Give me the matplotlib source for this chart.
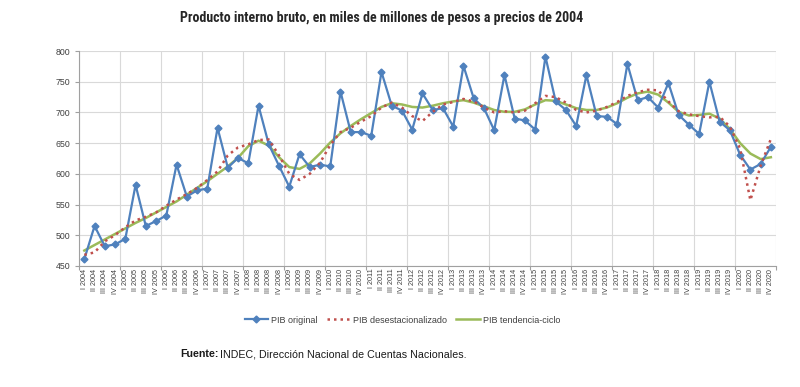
import numpy as np
import matplotlib
matplotlib.use('Agg')
import matplotlib.pyplot as plt
from matplotlib import font_manager

plt.rcParams['font.family'] = ['Liberation Sans', 'DejaVu Sans']

anios = list(range(2004, 2021))
trimestres = ['I', 'II', 'III', 'IV']
etiquetas = [t + ' ' + str(a) for a in anios for t in trimestres]

# PIB original (trimestral)
pib_original = [461, 515, 482, 485,
                494, 582, 515, 523,
                532, 615, 563, 573,
                576, 675, 610, 626,
                617, 711, 648, 613,
                579, 632, 611, 615,
                612, 734, 668, 668,
                662, 766, 711, 703,
                672, 731, 704, 707,
                677, 776, 723, 707,
                671, 761, 690, 687,
                672, 791, 718, 704,
                678, 761, 694, 693,
                681, 779, 720, 725,
                708, 748, 696, 680,
                665, 750, 685, 671,
                631, 607, 616, 644]

pib_desest = [468, 472, 490, 500,
              513, 524, 530, 537,
              548, 558, 567, 577,
              590, 604, 630, 643,
              648, 655, 656, 630,
              600, 590, 600, 618,
              647, 668, 675, 685,
              694, 708, 716, 708,
              694, 686, 701, 713,
              717, 722, 718, 708,
              700, 702, 700, 703,
              715, 727, 725, 716,
              704, 700, 703, 709,
              717, 727, 733, 737,
              736, 718, 702, 697,
              694, 692, 693, 677,
              641, 557, 613, 657]

pib_tendencia = [475, 484, 493, 502,
                 511, 520, 528, 537,
                 546, 555, 566, 577,
                 588, 600, 612, 626,
                 645, 654, 646, 627,
                 611, 608, 617, 633,
                 651, 666, 678, 689,
                 699, 709, 715, 713,
                 709, 708, 711, 715,
                 718, 720, 716, 710,
                 704, 701, 701, 705,
                 713, 720, 719, 713,
                 707, 704, 704, 708,
                 715, 724, 731, 734,
                 729, 716, 701, 695,
                 696, 698, 690, 673,
                 650, 633, 624, 627]

x = np.arange(len(etiquetas))

# fuente angosta para el titulo si hay alguna
instaladas = {f.name for f in font_manager.fontManager.ttflist}
angosta = [f for f in ['Liberation Sans Narrow', 'DejaVu Sans Condensed', 'Roboto Condensed']
           if f in instaladas]
if angosta:
    fam_titulo, tam_titulo = angosta[0], 10
else:
    fam_titulo, tam_titulo = 'Roboto', 8.6

fig = plt.figure(figsize=(8, 3.87), dpi=100)
ax = fig.add_axes([0.099, 0.313, 0.871, 0.555])

ax.plot(x, pib_original, color='#4F81BD', lw=1.6, marker='D', ms=3.5,
        label='PIB original', zorder=3)
ax.plot(x, pib_desest, color='#C0504D', lw=1.8, ls=(0, (1, 1.6)),
        label='PIB desestacionalizado', zorder=4)
ax.plot(x, pib_tendencia, color='#9BBB59', lw=1.8,
        label='PIB tendencia-ciclo', zorder=2)

ax.set_xlim(-0.5, len(x) - 0.5)
ax.set_ylim(450, 800)
ax.set_yticks(range(450, 801, 50))

# grilla vertical en los limites de cada anio
ax.set_xticks(np.arange(-0.5, len(x), 4))
ax.set_xticklabels([])
ax.set_xticks(x, minor=True)
ax.set_xticklabels(etiquetas, minor=True, rotation=90, fontsize=5.2, color='#404040')
ax.tick_params(axis='x', which='minor', length=0, pad=2)
ax.tick_params(axis='x', which='major', length=3, color='#A0A0A0')
ax.tick_params(axis='y', labelsize=6.3, color='#A0A0A0', length=3, labelcolor='#404040')
ax.grid(True, which='major', color='#D9D9D9', lw=0.8)
ax.set_axisbelow(True)

for s in ['top', 'right']:
    ax.spines[s].set_visible(False)
for s in ['left', 'bottom']:
    ax.spines[s].set_color('#A0A0A0')
    ax.spines[s].set_linewidth(0.8)

fig.legend(loc='center', bbox_to_anchor=(0.503, 0.173), ncol=3, frameon=False,
           fontsize=6.5, handlelength=2.6, handletextpad=0.35, columnspacing=1.0,
           labelcolor='#404040')

fig.text(0.477, 0.953, 'Producto interno bruto, en miles de millones de pesos a precios de 2004',
         ha='center', va='center', fontsize=tam_titulo, fontweight='bold',
         family=fam_titulo, color='#262626')

fig.text(0.225, 0.085, 'Fuente:', fontsize=7.7, fontweight='bold',
         va='center', color='#1a1a1a')
fig.text(0.2755, 0.085, 'INDEC, Dirección Nacional de Cuentas Nacionales.', fontsize=7.7,
         va='center', color='#1a1a1a')

fig.savefig('out.png', dpi=100)
